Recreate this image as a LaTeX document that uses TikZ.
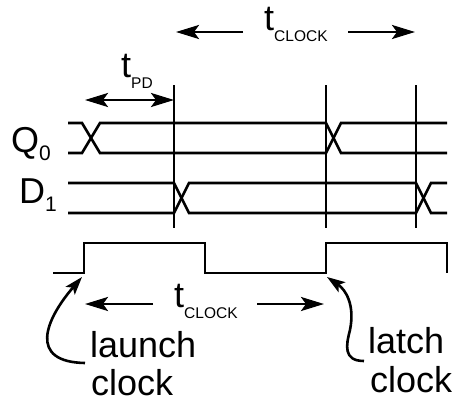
\documentclass[tikz,border=0pt]{standalone}
\usepackage{fontspec}
\setmainfont{Liberation Sans}
\usetikzlibrary{arrows.meta}
\newcommand\bigsz{\fontsize{36}{38}\selectfont}
\newcommand\mysubA[1]{\raisebox{-11pt}{\fontsize{15.5}{15.5}\selectfont #1}}
\newcommand\mysubB[1]{\raisebox{-8pt}{\fontsize{21}{21}\selectfont #1}}
\begin{document}
\begin{tikzpicture}[x=1pt,y=-1pt,
  wave/.style={line width=2.6pt,line join=miter},
  tick/.style={line width=2.6pt},
  dim/.style={line width=2.6pt,-{Stealth[length=23pt,width=14pt,inset=5pt]}},
  dimboth/.style={line width=2.6pt,{Stealth[length=23pt,width=14pt,inset=5pt]}-{Stealth[length=23pt,width=14pt,inset=5pt]}},
  curv/.style={line width=2.6pt,-{Stealth[length=18pt,width=12pt,inset=4pt]}},
  lbl/.style={inner sep=0pt,anchor=base west,font=\bigsz}]
\useasboundingbox (0,0) rectangle (458,402);
% vertical clock edge markers
\coordinate (v1t) at (174,85);  \coordinate (v1b) at (174,228);
\coordinate (v2t) at (326,85);  \coordinate (v2b) at (326,228);
\coordinate (v3t) at (416,85);  \coordinate (v3b) at (416,228);
\draw[tick] (v1t) -- (v1b);
\draw[tick] (v2t) -- (v2b);
\draw[tick] (v3t) -- (v3b);
% Q0
\draw[wave] (68,123) -- (82,123) -- (100,153) -- (326,153) -- (341,123) -- (447,123);
\draw[wave] (68,153) -- (82,153) -- (100,123) -- (326,123) -- (341,153) -- (447,153);
% D1
\draw[wave] (68,183) -- (174,183) -- (189,213) -- (416,213) -- (431,183) -- (447,183);
\draw[wave] (68,213) -- (174,213) -- (189,183) -- (416,183) -- (431,213) -- (447,213);
% clock
\draw[wave] (53,273) -- (84,273) -- (84,243) -- (205,243) -- (205,273) -- (326,273) -- (326,243) -- (447,243) -- (447,273);
% labels
\node[lbl] (q0) at (11,152) {Q\mysubB{0}};
\node[lbl] (d1) at (19,203) {D\mysubB{1}};
\node[lbl] (tpd) at (121,77) {t\mysubA{PD}};
\node[lbl] (tclk1) at (264,30) {t\mysubA{CLOCK}};
\node[lbl] (tclk2) at (174,307) {t\mysubA{CLOCK}};
\node[lbl] (launch) at (90,357) {launch};
\node[lbl] (launchc) at (91,395) {clock};
\node[lbl] (latch) at (368,353) {latch};
\node[lbl] (latchc) at (370,392) {clock};
% dimension arrows
\coordinate (pdl) at (85,100); \coordinate (pdr) at (174,100);
\draw[dimboth] (pdl) -- (pdr);
\coordinate (c1a) at (243,32); \coordinate (c1l) at (176,32);
\coordinate (c1b) at (348,32); \coordinate (c1r) at (415,32);
\draw[dim] (c1a) -- (c1l);
\draw[dim] (c1b) -- (c1r);
\coordinate (c2a) at (153,304); \coordinate (c2l) at (85,304);
\coordinate (c2b) at (257,304); \coordinate (c2r) at (324,304);
\draw[dim] (c2a) -- (c2l);
\draw[dim] (c2b) -- (c2r);
% curved pointers
\coordinate (la0) at (85,363); \coordinate (la1) at (82,277);
\draw[curv] (la0) .. controls (28,362) and (45,320) .. (la1);
\coordinate (lt0) at (364,361); \coordinate (lt1) at (327,277);
\draw[curv] (lt0) .. controls (343,361) and (346,345) .. (350,330) .. controls (355,305) and (346,290) .. (lt1);
\end{tikzpicture}
\end{document}
